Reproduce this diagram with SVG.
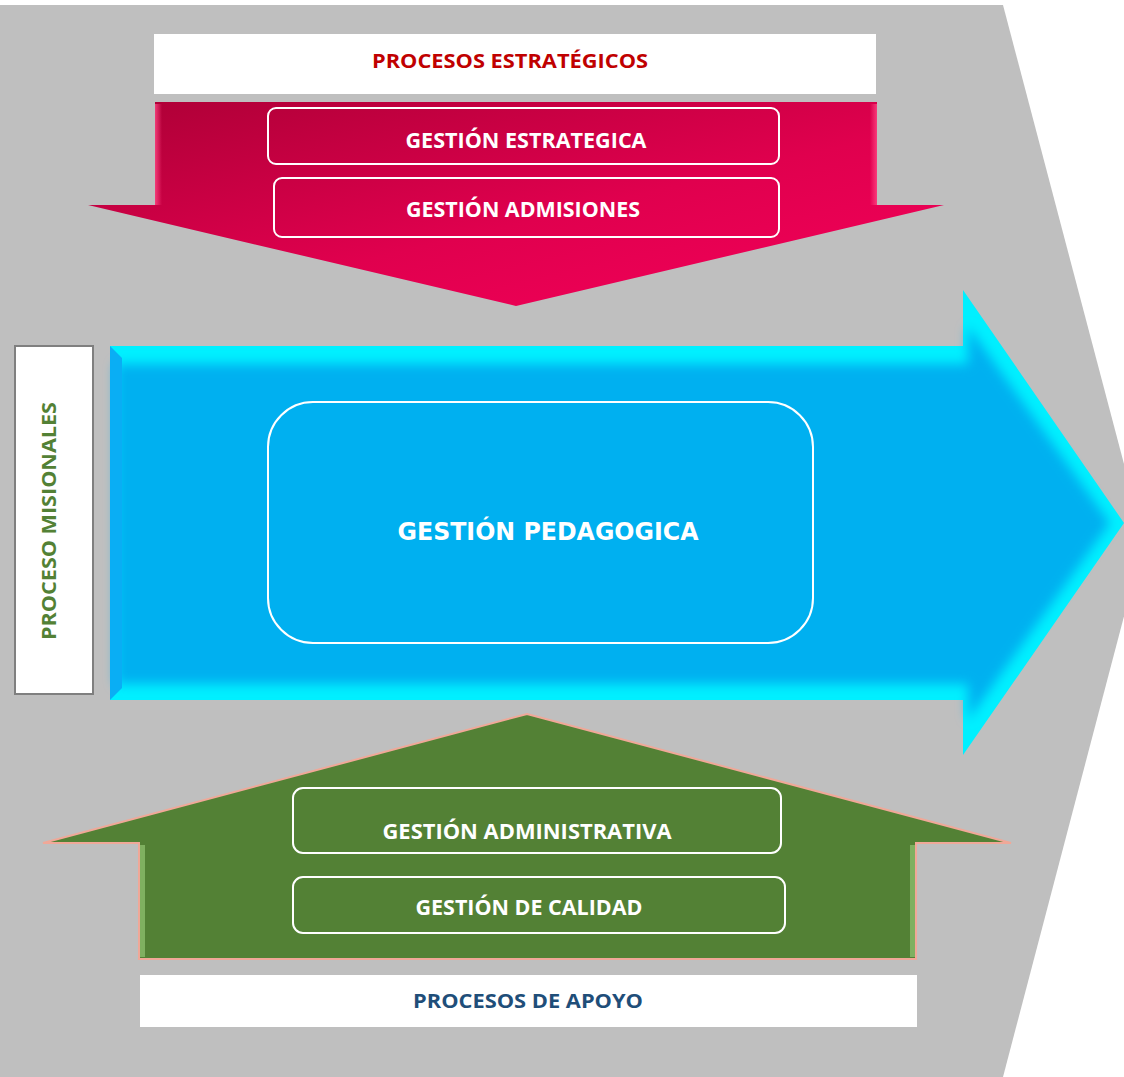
<svg xmlns="http://www.w3.org/2000/svg" width="1124" height="1077" viewBox="0 0 1124 1077">
<defs>
<linearGradient id="redGrad" x1="0" y1="0" x2="1" y2="1">
<stop offset="0" stop-color="#ad0036"/>
<stop offset="0.55" stop-color="#e0004e"/>
<stop offset="1" stop-color="#f5005a"/>
</linearGradient>
<linearGradient id="redEdge" x1="0" y1="0" x2="1" y2="0">
<stop offset="0" stop-color="#ff4a86"/>
<stop offset="1" stop-color="#ff4a86" stop-opacity="0"/>
</linearGradient>
<linearGradient id="redEdgeR" x1="1" y1="0" x2="0" y2="0">
<stop offset="0" stop-color="#ff4a86"/>
<stop offset="1" stop-color="#ff4a86" stop-opacity="0"/>
</linearGradient>
<filter id="soft" x="-5%" y="-5%" width="110%" height="110%">
<feGaussianBlur stdDeviation="6"/>
</filter>
<style>
.lbl{font-family:"Open Sans","Liberation Sans",sans-serif;font-weight:bold;text-anchor:middle}
.box{fill:none;stroke:#ffffff;stroke-width:2}
.wbox{fill:#ffffff}
</style>
</defs>
<rect x="0" y="0" width="1124" height="1077" fill="#ffffff"/>
<polygon id="background" points="0,5 1003,5 1144,540 1003,1077 0,1077" fill="#bfbfbf"/>

<g id="procesos-estrategicos">
<rect class="wbox" x="154" y="34" width="722" height="60"/>
<text class="lbl" x="510" y="68" font-size="19.5" fill="#c00000" textLength="276" lengthAdjust="spacingAndGlyphs">PROCESOS ESTRATÉGICOS</text>
</g>

<g id="red-arrow">
<polygon points="155,102 877,102 877,205 944,205 516,306 88,205 155,205" fill="url(#redGrad)"/>
<rect x="155" y="104" width="7" height="101" fill="url(#redEdge)" opacity="0.8"/>
<rect x="870" y="104" width="7" height="101" fill="url(#redEdgeR)" opacity="0.8"/>
</g>

<g id="gestion-estrategica">
<rect class="box" x="268" y="108" width="511" height="56" rx="8"/>
<text class="lbl" x="526" y="148" font-size="20.5" fill="#ffffff" textLength="241" lengthAdjust="spacingAndGlyphs">GESTIÓN ESTRATEGICA</text>
</g>
<g id="gestion-admisiones">
<rect class="box" x="274" y="178" width="505" height="59" rx="8" stroke="#f8d0dc"/>
<text class="lbl" x="523" y="217" font-size="20.5" fill="#ffffff" textLength="234" lengthAdjust="spacingAndGlyphs">GESTIÓN ADMISIONES</text>
</g>

<g id="blue-arrow">
<polygon points="110,346 963,346 963,290 1124,523 963,755 963,700 110,700" fill="#00f0ff"/>
<polygon points="116,364 968,364 968,326 1110,523 968,720 968,684 116,684" fill="#00b0f0" filter="url(#soft)"/>
<polygon points="110,346 122,358 122,688 110,700" fill="#0aaef4"/>
</g>

<g id="gestion-pedagogica">
<rect class="box" x="268" y="402" width="545" height="241" rx="45"/>
<text x="548" y="540" font-family="'DejaVu Sans','Liberation Sans',sans-serif" font-weight="bold" font-size="24.5" fill="#ffffff" text-anchor="middle" textLength="301" lengthAdjust="spacingAndGlyphs">GESTIÓN PEDAGOGICA</text>
</g>

<g id="proceso-misionales">
<rect x="15" y="346" width="78" height="348" fill="#ffffff" stroke="#7f7f7f" stroke-width="2"/>
<text class="lbl" transform="translate(56,521) rotate(-90)" x="0" y="0" font-size="19.5" fill="#538135" textLength="238" lengthAdjust="spacingAndGlyphs">PROCESO MISIONALES</text>
</g>

<g id="green-arrow">
<polygon points="527,714 1011,843 916,843 916,959 139,959 139,843 43,843" fill="#538135" stroke="#f0a898" stroke-width="2"/>
<rect x="140" y="845" width="5" height="112" fill="#7fb060"/>
<rect x="910" y="845" width="5" height="112" fill="#7fb060"/>
</g>

<g id="gestion-administrativa">
<rect class="box" x="293" y="788" width="488" height="65" rx="10"/>
<text class="lbl" x="527" y="839" font-size="20.5" fill="#ffffff" textLength="289" lengthAdjust="spacingAndGlyphs">GESTIÓN ADMINISTRATIVA</text>
</g>
<g id="gestion-calidad">
<rect class="box" x="293" y="877" width="492" height="56" rx="10"/>
<text class="lbl" x="529" y="915" font-size="20.5" fill="#ffffff" textLength="227" lengthAdjust="spacingAndGlyphs">GESTIÓN DE CALIDAD</text>
</g>

<g id="procesos-apoyo">
<rect class="wbox" x="140" y="975" width="777" height="52"/>
<text class="lbl" x="528" y="1008" font-size="19.5" fill="#1f4e79" textLength="230" lengthAdjust="spacingAndGlyphs">PROCESOS DE APOYO</text>
</g>

<g id="connectors"></g>
</svg>
